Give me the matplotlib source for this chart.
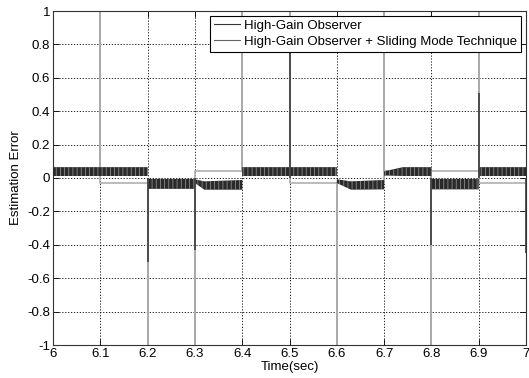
import numpy as np
import matplotlib
matplotlib.use("Agg")
import matplotlib.pyplot as plt

plt.rcParams["font.family"] = ["Liberation Sans", "DejaVu Sans"]
plt.rcParams["font.size"] = 9.5
plt.rcParams["hatch.linewidth"] = 0.6

# High-Gain Observer: chattering band (upper / lower envelope)
hgo_t = [6.0, 6.2, 6.2, 6.3, 6.3, 6.32, 6.4, 6.4, 6.6, 6.6, 6.63, 6.7, 6.7, 6.74, 6.8, 6.8, 6.9, 6.9, 7.0]
hgo_upper = [0.065, 0.065, -0.005, -0.005, -0.008, -0.02, -0.012, 0.065, 0.065, -0.008, -0.02, -0.012,
             0.04, 0.065, 0.065, -0.005, -0.005, 0.065, 0.065]
hgo_lower = [0.012, 0.012, -0.065, -0.065, -0.03, -0.07, -0.07, 0.012, 0.012, -0.03, -0.07, -0.068,
             0.015, 0.012, 0.012, -0.068, -0.068, 0.012, 0.012]
# spikes of the High-Gain Observer at the switching instants
hgo_spike_t = [6.2, 6.3, 6.5, 6.8, 6.9, 7.0]
hgo_spike_peak = [-0.50, -0.43, 0.77, -0.40, 0.51, -0.45]

# High-Gain Observer + Sliding Mode: one level per 0.1 s interval, spikes run off the axes
smt_edges = [6.0, 6.1, 6.2, 6.3, 6.4, 6.5, 6.6, 6.7, 6.8, 6.9, 7.0]
smt_levels = [0.044, -0.028, -0.028, 0.044, 0.044, -0.028, -0.028, 0.044, 0.044, -0.028]
smt_spike_peak = [3, -3, -3, 3, 3, -3, 3, -3, 3]

x_ticks = [6.0, 6.1, 6.2, 6.3, 6.4, 6.5, 6.6, 6.7, 6.8, 6.9, 7.0]
x_labels = ["6", "6.1", "6.2", "6.3", "6.4", "6.5", "6.6", "6.7", "6.8", "6.9", "7"]
y_ticks = [-1, -0.8, -0.6, -0.4, -0.2, 0, 0.2, 0.4, 0.6, 0.8, 1]
y_labels = ["-1", "-0.8", "-0.6", "-0.4", "-0.2", "0", "0.2", "0.4", "0.6", "0.8", "1"]

fig = plt.figure(figsize=(5.29, 3.78), dpi=100)
ax = fig.add_axes([53 / 529, 1 - 345 / 378, (526 - 53) / 529, (345 - 11) / 378])

# sliding mode series as a step line with spikes at each switch
smt_x, smt_y = [], []
for i, lvl in enumerate(smt_levels):
    smt_x += [smt_edges[i], smt_edges[i + 1]]
    smt_y += [lvl, lvl]
    if i < len(smt_spike_peak):
        smt_x += [smt_edges[i + 1], smt_edges[i + 1]]
        smt_y += [smt_spike_peak[i], smt_levels[i + 1]]
ax.plot(smt_x, smt_y, color="#aaaaaa", lw=1.1, zorder=2)

# high-gain observer band (hatched to mimic the chattering) and spikes
ax.fill_between(hgo_t, hgo_lower, hgo_upper, facecolor="#2a2a2a", edgecolor="#8a8a8a",
                hatch="||||", lw=0, zorder=3)
ax.vlines(hgo_spike_t, 0, hgo_spike_peak, color="#454545", lw=1.3, zorder=3)

# legend proxies
ax.plot([], [], color="#333333", lw=0.8, label="High-Gain Observer")
ax.plot([], [], color="#666666", lw=0.8, label="High-Gain Observer + Sliding Mode Technique")
leg = ax.legend(loc="upper right", fontsize=9.5, handlelength=2.0, handletextpad=0.3,
                borderpad=0.3, labelspacing=0.3, borderaxespad=0.35, fancybox=False,
                framealpha=1)
leg.get_frame().set_edgecolor("black")
leg.get_frame().set_linewidth(0.8)

ax.set_xlim(6, 7)
ax.set_ylim(-1, 1)
ax.set_xticks(x_ticks)
ax.set_xticklabels(x_labels)
ax.set_yticks(y_ticks)
ax.set_yticklabels(y_labels)
ax.tick_params(direction="in", top=True, right=True, length=4, width=0.6, pad=2)
ax.grid(True, color="black", linestyle=(0, (1.5, 2)), linewidth=0.6)
for s in ax.spines.values():
    s.set_linewidth(0.8)
    s.set_color("#333333")

ax.set_xlabel("Time(sec)", labelpad=1)
ax.set_ylabel("Estimation Error", labelpad=4)

fig.savefig("out.png", dpi=100)
